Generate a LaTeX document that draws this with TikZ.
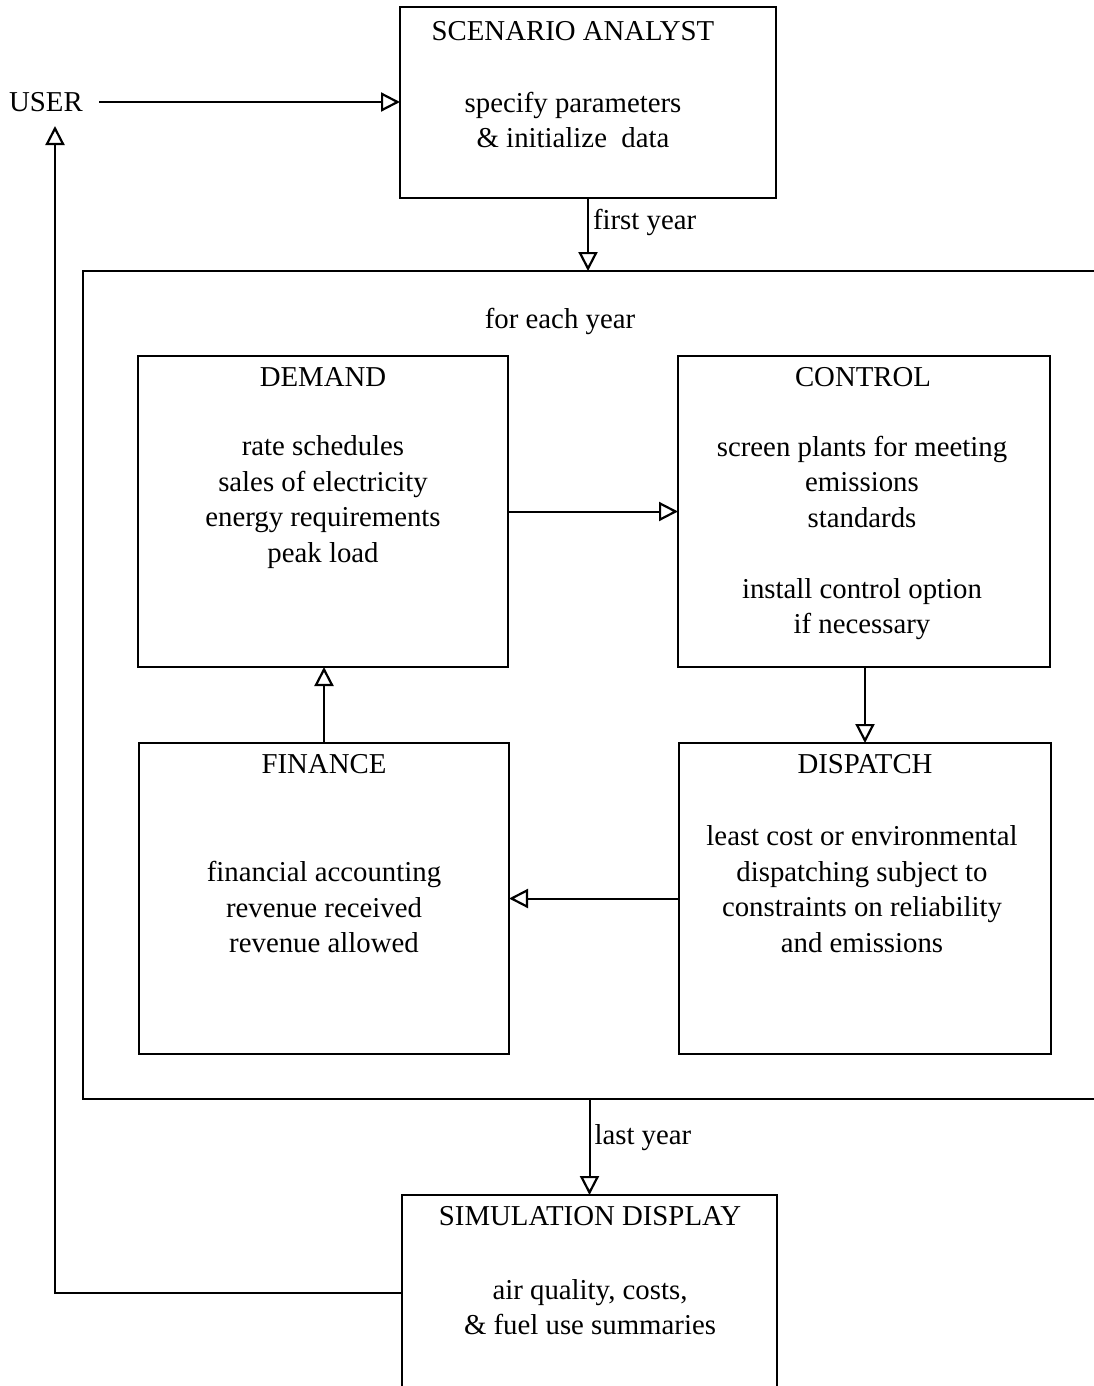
\documentclass[tikz,border=0pt]{standalone}
\usepackage{fontspec}
\setmainfont{Liberation Serif}
\usetikzlibrary{arrows.meta}
\begin{document}
\begin{tikzpicture}[x=0.5pt,y=-0.5pt,
 box/.style={draw, line width=1pt, rectangle, anchor=north west, inner sep=0, outer sep=0},
 txt/.style={font=\fontsize{14.4}{17.75}\selectfont, align=center, inner sep=0},
 arr/.style={draw, line width=1pt, -{Triangle[open,length=9.5pt,width=9.5pt,line width=1.1pt]}},
 ln/.style={draw, line width=1pt}]
\useasboundingbox (0,0) rectangle (1093,1386);
\fill[white] (0,0) rectangle (1093,1386);

% boxes
\node[box, minimum width=188pt, minimum height=95.5pt] (scen) at (400,7) {};
\node[box, minimum width=518.5pt, minimum height=414pt] (outer) at (83,271) {};
\node[box, minimum width=185pt, minimum height=155.5pt] (demand) at (138,356) {};
\node[box, minimum width=186pt, minimum height=155.5pt] (control) at (678,356) {};
\node[box, minimum width=185pt, minimum height=155.5pt] (finance) at (139,743) {};
\node[box, minimum width=186pt, minimum height=155.5pt] (dispatch) at (679,743) {};
\node[box, minimum width=187.5pt, minimum height=112.5pt] (sim) at (402,1195) {};

% texts
\node[txt] (user) at (46,102) {USER};
\node[txt] (scent) at (573,31) {SCENARIO ANALYST};
\node[txt] (scenb) at (573,120) {specify parameters\\ \& initialize~~data};
\node[txt] (eachyear) at (560,321) {for each year};
\node[txt] (demandt) at (323,377) {DEMAND};
\node[txt] (demandb) at (323,502) {rate schedules\\sales of electricity\\energy requirements\\peak load};
\node[txt] (controlt) at (863,377) {CONTROL};
\node[txt] (controlb) at (862,538) {screen plants for meeting\\emissions\\standards\\[17.75pt]install control option\\if necessary};
\node[txt] (financet) at (324,764) {FINANCE};
\node[txt] (financeb) at (324,907) {financial accounting\\revenue received\\revenue allowed};
\node[txt] (dispatcht) at (865,764) {DISPATCH};
\node[txt] (dispatchb) at (862,889) {least cost or environmental\\dispatching subject to\\constraints on reliability\\and emissions};
\node[txt] (simt) at (590,1216) {SIMULATION DISPLAY};
\node[txt] (simb) at (590,1307) {air quality, costs,\\ \& fuel use summaries};

% connectors
\draw[arr] (user.east) ++(16,0) coordinate (ustart) -- (ustart -| scen.west);
\draw[arr] (scen.south) -- (scen.south |- outer.north)
  node[txt, anchor=west, pos=0.33, xshift=2pt] (firstyear) {first year};
\draw[arr] (demand.east) -- (control.west);
\draw[arr] (dispatch.north |- control.south) -- (dispatch.north);
\draw[arr] (dispatch.west) -- (finance.east);
\draw[arr] (finance.north) -- (finance.north |- demand.south);
\draw[arr] (sim.north |- outer.south) -- (sim.north)
  node[txt, anchor=west, pos=0.4, xshift=2pt] (lastyear) {last year};
\coordinate (fbcorner) at (55,1293);
\coordinate (usertip) at (55,126);
\draw[arr] (sim.west |- fbcorner) -- (fbcorner) -- (usertip);
\end{tikzpicture}
\end{document}
